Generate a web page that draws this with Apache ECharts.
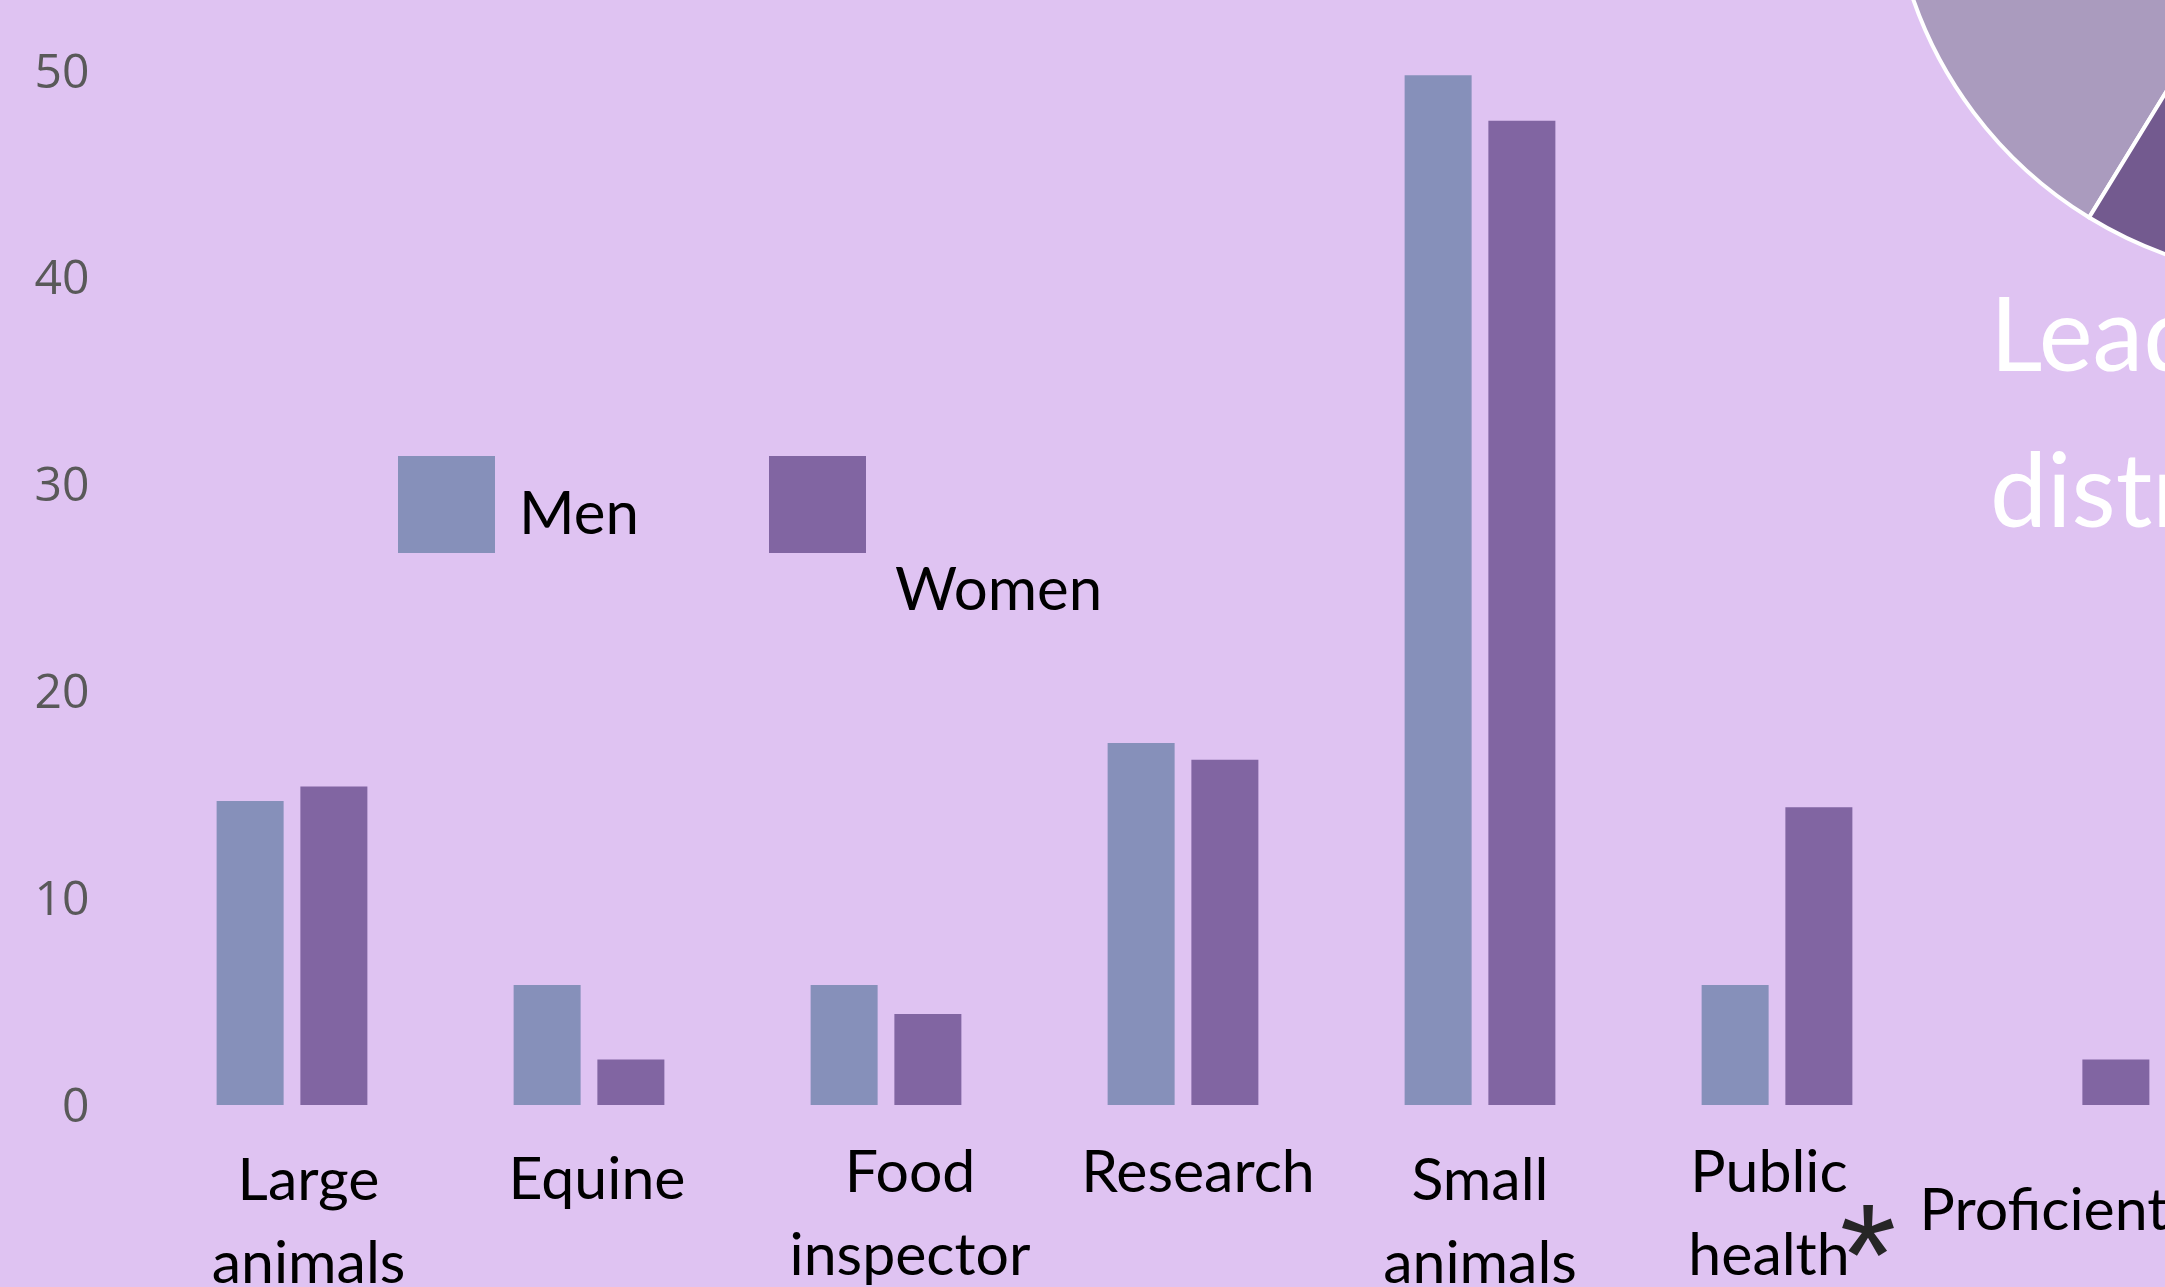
<!DOCTYPE html>
<html>
<head>
<meta charset="utf-8">
<script src="https://cdn.jsdelivr.net/npm/echarts@6/dist/echarts.min.js"></script>
<style>
html,body{margin:0;padding:0;background:#dfc3f2;}
#chart{width:2165px;height:1287px;}
</style>
</head>
<body>
<div id="chart"></div>
<script>
// ---- data ----
const categories = ['Large\nanimals', 'Equine', 'Food\ninspector', 'Research', 'Small\nanimals', 'Public\nhealth', 'Proficient'];
const menValues = [14.7, 5.8, 5.8, 17.5, 49.8, 5.8, 0];
const womenValues = [15.4, 2.2, 4.4, 16.7, 47.6, 14.4, 2.2];
const yMin = 0, yMax = 50, yStep = 10;
const pieNames = ['Share A', 'Share B'];
const pieValues = [55, 45];
const titleText = 'Leadership\ndistribution';

// ---- styles (kept apart from data) ----
const labelPads = [
  [8, 0, 0, 33],
  [7, 0, 0, 16],
  [0, 0, 0, 48],
  [0, 0, 0, 30],
  [8, 0, 0, 0],
  [0, 16, 0, 0],
  [38, 60, 0, 0]
];
const MEN_COLOR = '#8690ba';
const WOMEN_COLOR = '#8165a2';

const chart = echarts.init(document.getElementById('chart'), null, {renderer: 'canvas'});

const option = {
  backgroundColor: '#dfc3f2',
  animation: false,
  title: {
    text: titleText,
    left: 1990,
    top: 260,
    padding: 0,
    textStyle: {fontFamily: 'Lato', fontSize: 102, lineHeight: 156, color: '#ffffff', fontWeight: 'normal'}
  },
  legend: [
    {
      data: ['Men'], left: 398, top: 456, padding: 0, orient: 'horizontal',
      itemWidth: 97, itemHeight: 97, icon: 'rect', selectedMode: false,
      formatter: name => '\n' + name,
      textStyle: {fontFamily: 'Lato', fontSize: 60, lineHeight: 20, color: '#000', padding: [0, 0, 0, 19]}
    },
    {
      data: ['Women'], left: 769, top: 332.5, padding: 0, orient: 'horizontal',
      itemWidth: 97, itemHeight: 97, icon: 'rect', selectedMode: false,
      formatter: name => '\n' + name,
      textStyle: {fontFamily: 'Lato', fontSize: 60, lineHeight: 172, color: '#000', padding: [0, 0, 0, 24]}
    }
  ],
  grid: {left: 143.5, top: 71, width: 2079, bottom: 182, containLabel: false, outerBoundsMode: 'none'},
  xAxis: {
    type: 'category',
    data: categories.map((c, i) => ({value: c, textStyle: {padding: labelPads[i]}})),
    axisLine: {show: false},
    axisTick: {show: false},
    splitLine: {show: false},
    axisLabel: {
      interval: 0, margin: 26, hideOverlap: false,
      fontFamily: 'Lato', fontSize: 59, lineHeight: 83, color: '#000'
    }
  },
  yAxis: {
    type: 'value', min: yMin, max: yMax, interval: yStep,
    axisLine: {show: false}, axisTick: {show: false}, splitLine: {show: false},
    axisLabel: {
      margin: 54, fontFamily: 'Open Sans', fontSize: 48, color: '#595959',
      formatter: v => '\n' + v, lineHeight: 6
    }
  },
  series: [
    {
      name: 'Men', type: 'bar', data: menValues, barWidth: 67, barGap: '25%',
      itemStyle: {color: MEN_COLOR}
    },
    {
      name: 'Women', type: 'bar', data: womenValues, barWidth: 67, barGap: '25%',
      itemStyle: {color: WOMEN_COLOR}
    },
    {
      name: 'Leadership', type: 'pie', center: [2307, -138], radius: 417,
      startAngle: 238.5, clockwise: true, silent: true,
      label: {show: false}, labelLine: {show: false},
      itemStyle: {borderColor: '#ffffff', borderWidth: 4},
      data: pieNames.map((n, i) => ({name: n, value: pieValues[i], itemStyle: {color: ['#aa9bbe', '#735a8f'][i]}}))
    }
  ],
  graphic: [
    {
      type: 'text', x: 1868, y: 1265, silent: true,
      style: {text: '*', fontFamily: 'Liberation Sans', fontSize: 145, fill: '#262626', align: 'center', verticalAlign: 'middle'}
    }
  ]
};
chart.setOption(option);
</script>
</body>
</html>
